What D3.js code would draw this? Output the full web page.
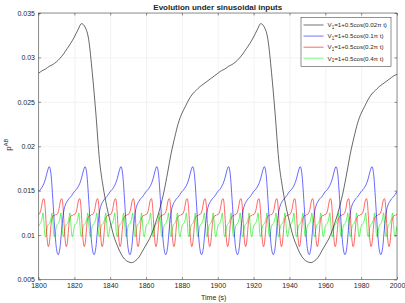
<!DOCTYPE html>
<html>
<head>
<meta charset="utf-8">
<script src="https://cdn.jsdelivr.net/npm/d3@7"></script>
<style>
  body { margin: 0; background: #fff; }
  text { font-family: "Liberation Sans", Arial, sans-serif; fill: #262626; }
</style>
</head>
<body>
<div id="chart"></div>
<script>
var blackStep = 2, blueStep = 1, redStep = 0.5, greenStep = 0.5;

// V1 = 1 + 0.5cos(0.02 pi t), every 2 s
var blackValues = [
  .0282,.0285,.0287,.0290,.0292,.0295,.0299,.0304,.0310,.0316,.0323,.0331,.0338,.0334,.0320,.0283,.0237,.0185,.0155,.0133,
  .0115,.0099,.0088,.0079,.0073,.0070,.0069,.0071,.0075,.0082,.0089,.0096,.0106,.0118,.0132,.0149,.0170,.0192,.0210,.0226,
  .0237,.0245,.0253,.0259,.0263,.0267,.0270,.0273,.0276,.0279,
  .0282,.0285,.0287,.0290,.0292,.0295,.0299,.0304,.0310,.0316,.0323,.0331,.0338,.0334,.0320,.0283,.0237,.0185,.0155,.0133,
  .0115,.0099,.0088,.0079,.0073,.0070,.0069,.0071,.0075,.0082,.0089,.0096,.0106,.0118,.0132,.0149,.0170,.0192,.0210,.0226,
  .0237,.0245,.0253,.0259,.0263,.0267,.0270,.0273,.0276,.0279,
  .0281
];

// V1 = 1 + 0.5cos(0.1 pi t), every 1 s
var blueValues = [
  .0149,.0151,.0154,.0158,.0164,.0172,.0177,.0168,.0140,.0108,.0085,.0078,.0086,.0108,.0126,.0134,.0138,.0141,.0143,.0146,
  .0149,.0151,.0154,.0158,.0164,.0172,.0177,.0168,.0140,.0108,.0085,.0078,.0086,.0108,.0126,.0134,.0138,.0141,.0143,.0146,
  .0149,.0151,.0154,.0158,.0164,.0172,.0177,.0168,.0140,.0108,.0085,.0078,.0086,.0108,.0126,.0134,.0138,.0141,.0143,.0146,
  .0149,.0151,.0154,.0158,.0164,.0172,.0177,.0168,.0140,.0108,.0085,.0078,.0086,.0108,.0126,.0134,.0138,.0141,.0143,.0146,
  .0149,.0151,.0154,.0158,.0164,.0172,.0177,.0168,.0140,.0108,.0085,.0078,.0086,.0108,.0126,.0134,.0138,.0141,.0143,.0146,
  .0149,.0151,.0154,.0158,.0164,.0172,.0177,.0168,.0140,.0108,.0085,.0078,.0086,.0108,.0126,.0134,.0138,.0141,.0143,.0146,
  .0149,.0151,.0154,.0158,.0164,.0172,.0177,.0168,.0140,.0108,.0085,.0078,.0086,.0108,.0126,.0134,.0138,.0141,.0143,.0146,
  .0149,.0151,.0154,.0158,.0164,.0172,.0177,.0168,.0140,.0108,.0085,.0078,.0086,.0108,.0126,.0134,.0138,.0141,.0143,.0146,
  .0149,.0151,.0154,.0158,.0164,.0172,.0177,.0168,.0140,.0108,.0085,.0078,.0086,.0108,.0126,.0134,.0138,.0141,.0143,.0146,
  .0149,.0151,.0154,.0158,.0164,.0172,.0177,.0168,.0140,.0108,.0085,.0078,.0086,.0108,.0126,.0134,.0138,.0141,.0143,.0146,
  .0149
];

// V1 = 1 + 0.5cos(0.2 pi t), every 0.5 s
var redValues = [
  .0123,.0124,.0126,.0130,.0136,.0140,.0141,.0136,.0122,.0104,.0092,.0087,.0090,.0100,.0112,.0119,.0121,.0122,.0122,.0123,
  .0123,.0124,.0126,.0130,.0136,.0140,.0141,.0136,.0122,.0104,.0092,.0087,.0090,.0100,.0112,.0119,.0121,.0122,.0122,.0123,
  .0123,.0124,.0126,.0130,.0136,.0140,.0141,.0136,.0122,.0104,.0092,.0087,.0090,.0100,.0112,.0119,.0121,.0122,.0122,.0123,
  .0123,.0124,.0126,.0130,.0136,.0140,.0141,.0136,.0122,.0104,.0092,.0087,.0090,.0100,.0112,.0119,.0121,.0122,.0122,.0123,
  .0123,.0124,.0126,.0130,.0136,.0140,.0141,.0136,.0122,.0104,.0092,.0087,.0090,.0100,.0112,.0119,.0121,.0122,.0122,.0123,
  .0123,.0124,.0126,.0130,.0136,.0140,.0141,.0136,.0122,.0104,.0092,.0087,.0090,.0100,.0112,.0119,.0121,.0122,.0122,.0123,
  .0123,.0124,.0126,.0130,.0136,.0140,.0141,.0136,.0122,.0104,.0092,.0087,.0090,.0100,.0112,.0119,.0121,.0122,.0122,.0123,
  .0123,.0124,.0126,.0130,.0136,.0140,.0141,.0136,.0122,.0104,.0092,.0087,.0090,.0100,.0112,.0119,.0121,.0122,.0122,.0123,
  .0123,.0124,.0126,.0130,.0136,.0140,.0141,.0136,.0122,.0104,.0092,.0087,.0090,.0100,.0112,.0119,.0121,.0122,.0122,.0123,
  .0123,.0124,.0126,.0130,.0136,.0140,.0141,.0136,.0122,.0104,.0092,.0087,.0090,.0100,.0112,.0119,.0121,.0122,.0122,.0123,
  .0123,.0124,.0126,.0130,.0136,.0140,.0141,.0136,.0122,.0104,.0092,.0087,.0090,.0100,.0112,.0119,.0121,.0122,.0122,.0123,
  .0123,.0124,.0126,.0130,.0136,.0140,.0141,.0136,.0122,.0104,.0092,.0087,.0090,.0100,.0112,.0119,.0121,.0122,.0122,.0123,
  .0123,.0124,.0126,.0130,.0136,.0140,.0141,.0136,.0122,.0104,.0092,.0087,.0090,.0100,.0112,.0119,.0121,.0122,.0122,.0123,
  .0123,.0124,.0126,.0130,.0136,.0140,.0141,.0136,.0122,.0104,.0092,.0087,.0090,.0100,.0112,.0119,.0121,.0122,.0122,.0123,
  .0123,.0124,.0126,.0130,.0136,.0140,.0141,.0136,.0122,.0104,.0092,.0087,.0090,.0100,.0112,.0119,.0121,.0122,.0122,.0123,
  .0123,.0124,.0126,.0130,.0136,.0140,.0141,.0136,.0122,.0104,.0092,.0087,.0090,.0100,.0112,.0119,.0121,.0122,.0122,.0123,
  .0123,.0124,.0126,.0130,.0136,.0140,.0141,.0136,.0122,.0104,.0092,.0087,.0090,.0100,.0112,.0119,.0121,.0122,.0122,.0123,
  .0123,.0124,.0126,.0130,.0136,.0140,.0141,.0136,.0122,.0104,.0092,.0087,.0090,.0100,.0112,.0119,.0121,.0122,.0122,.0123,
  .0123,.0124,.0126,.0130,.0136,.0140,.0141,.0136,.0122,.0104,.0092,.0087,.0090,.0100,.0112,.0119,.0121,.0122,.0122,.0123,
  .0123,.0124,.0126,.0130,.0136,.0140,.0141,.0136,.0122,.0104,.0092,.0087,.0090,.0100,.0112,.0119,.0121,.0122,.0122,.0123,
  .0123
];

// V1 = 1 + 0.5cos(0.4 pi t), every 0.5 s
var greenValues = [
  .0110,.0112,.0113,.0115,.0119,.0125,.0115,.0101,.0098,.0104, .0110,.0112,.0113,.0115,.0119,.0125,.0115,.0101,.0098,.0104,
  .0110,.0112,.0113,.0115,.0119,.0125,.0115,.0101,.0098,.0104, .0110,.0112,.0113,.0115,.0119,.0125,.0115,.0101,.0098,.0104,
  .0110,.0112,.0113,.0115,.0119,.0125,.0115,.0101,.0098,.0104, .0110,.0112,.0113,.0115,.0119,.0125,.0115,.0101,.0098,.0104,
  .0110,.0112,.0113,.0115,.0119,.0125,.0115,.0101,.0098,.0104, .0110,.0112,.0113,.0115,.0119,.0125,.0115,.0101,.0098,.0104,
  .0110,.0112,.0113,.0115,.0119,.0125,.0115,.0101,.0098,.0104, .0110,.0112,.0113,.0115,.0119,.0125,.0115,.0101,.0098,.0104,
  .0110,.0112,.0113,.0115,.0119,.0125,.0115,.0101,.0098,.0104, .0110,.0112,.0113,.0115,.0119,.0125,.0115,.0101,.0098,.0104,
  .0110,.0112,.0113,.0115,.0119,.0125,.0115,.0101,.0098,.0104, .0110,.0112,.0113,.0115,.0119,.0125,.0115,.0101,.0098,.0104,
  .0110,.0112,.0113,.0115,.0119,.0125,.0115,.0101,.0098,.0104, .0110,.0112,.0113,.0115,.0119,.0125,.0115,.0101,.0098,.0104,
  .0110,.0112,.0113,.0115,.0119,.0125,.0115,.0101,.0098,.0104, .0110,.0112,.0113,.0115,.0119,.0125,.0115,.0101,.0098,.0104,
  .0110,.0112,.0113,.0115,.0119,.0125,.0115,.0101,.0098,.0104, .0110,.0112,.0113,.0115,.0119,.0125,.0115,.0101,.0098,.0104,
  .0110,.0112,.0113,.0115,.0119,.0125,.0115,.0101,.0098,.0104, .0110,.0112,.0113,.0115,.0119,.0125,.0115,.0101,.0098,.0104,
  .0110,.0112,.0113,.0115,.0119,.0125,.0115,.0101,.0098,.0104, .0110,.0112,.0113,.0115,.0119,.0125,.0115,.0101,.0098,.0104,
  .0110,.0112,.0113,.0115,.0119,.0125,.0115,.0101,.0098,.0104, .0110,.0112,.0113,.0115,.0119,.0125,.0115,.0101,.0098,.0104,
  .0110,.0112,.0113,.0115,.0119,.0125,.0115,.0101,.0098,.0104, .0110,.0112,.0113,.0115,.0119,.0125,.0115,.0101,.0098,.0104,
  .0110,.0112,.0113,.0115,.0119,.0125,.0115,.0101,.0098,.0104, .0110,.0112,.0113,.0115,.0119,.0125,.0115,.0101,.0098,.0104,
  .0110,.0112,.0113,.0115,.0119,.0125,.0115,.0101,.0098,.0104, .0110,.0112,.0113,.0115,.0119,.0125,.0115,.0101,.0098,.0104,
  .0110,.0112,.0113,.0115,.0119,.0125,.0115,.0101,.0098,.0104, .0110,.0112,.0113,.0115,.0119,.0125,.0115,.0101,.0098,.0104,
  .0110,.0112,.0113,.0115,.0119,.0125,.0115,.0101,.0098,.0104, .0110,.0112,.0113,.0115,.0119,.0125,.0115,.0101,.0098,.0104,
  .0110,.0112,.0113,.0115,.0119,.0125,.0115,.0101,.0098,.0104, .0110,.0112,.0113,.0115,.0119,.0125,.0115,.0101,.0098,.0104,
  .0110,.0112,.0113,.0115,.0119,.0125,.0115,.0101,.0098,.0104, .0110,.0112,.0113,.0115,.0119,.0125,.0115,.0101,.0098,.0104,
  .0110
];

var seriesNames = ["0.02\u03c0 t", "0.1\u03c0 t", "0.2\u03c0 t", "0.4\u03c0 t"];
var seriesColors = ["#000000", "#0000ff", "#ff0000", "#00ee00"];
var xTicks = [1800, 1820, 1840, 1860, 1880, 1900, 1920, 1940, 1960, 1980, 2000];
var yTicks = [0.005, 0.01, 0.015, 0.02, 0.025, 0.03, 0.035];
var yTickLabels = ["0.005", "0.01", "0.015", "0.02", "0.025", "0.03", "0.035"];

var W = 405, H = 303;
var margin = { left: 38.5, right: 8, top: 13, bottom: 23.5 };
var width = W - margin.left - margin.right,
    height = H - margin.top - margin.bottom;

var svg = d3.select("#chart").append("svg")
    .attr("width", W).attr("height", H);

var g = svg.append("g")
    .attr("transform", "translate(" + margin.left + "," + margin.top + ")");

var x = d3.scaleLinear().domain([1800, 2000]).range([0, width]);
var y = d3.scaleLinear().domain([0.005, 0.035]).range([height, 0]);

// grid
g.append("g").attr("class", "grid")
    .attr("transform", "translate(0," + height + ")")
    .call(d3.axisBottom(x).tickValues(xTicks).tickSize(-height).tickFormat(""));
g.append("g").attr("class", "grid")
    .call(d3.axisLeft(y).tickValues(yTicks).tickSize(-width).tickFormat(""));
g.selectAll(".grid .domain").remove();
g.selectAll(".grid line").attr("stroke", "#e6e6e6").attr("stroke-width", 0.5);

// lines
g.append("clipPath").attr("id", "clip")
  .append("rect").attr("width", width).attr("height", height);

var seriesValues = [blackValues, blueValues, redValues, greenValues];
var seriesSteps = [blackStep, blueStep, redStep, greenStep];

var line = d3.line()
    .x(function(d){ return x(d[0]); })
    .y(function(d){ return y(d[1]); })
    .curve(d3.curveMonotoneX);

// draw green first so black ends on top like the original
[3, 2, 1, 0].forEach(function(k){
    var pts = seriesValues[k].map(function(v, i){ return [1800 + i * seriesSteps[k], v]; });
    g.append("path")
        .datum(pts)
        .attr("clip-path", "url(#clip)")
        .attr("fill", "none")
        .attr("stroke", seriesColors[k])
        .attr("stroke-width", 0.6)
        .attr("d", line);
});

// axes (ticks inward, box on)
function styleAxis(sel){
    sel.select(".domain").remove();
    sel.selectAll("line").attr("stroke", "#262626").attr("stroke-width", 0.5);
    sel.selectAll("text").attr("font-size", "7px").attr("fill", "#262626")
        .style("font-family", "'Liberation Sans', Arial, sans-serif");
}
g.append("g").attr("transform", "translate(0," + height + ")")
    .call(d3.axisBottom(x).tickValues(xTicks).tickSize(-2.5).tickPadding(3.5).tickFormat(d3.format("d")))
    .call(styleAxis);
g.append("g")
    .call(d3.axisTop(x).tickValues(xTicks).tickSize(-2.5).tickFormat(""))
    .call(styleAxis);
g.append("g")
    .call(d3.axisLeft(y).tickValues(yTicks).tickSize(-2.5).tickPadding(3.5)
        .tickFormat(function(d, i){ return yTickLabels[i]; }))
    .call(styleAxis);
g.append("g").attr("transform", "translate(" + width + ",0)")
    .call(d3.axisRight(y).tickValues(yTicks).tickSize(-2.5).tickFormat(""))
    .call(styleAxis);

g.append("rect")
    .attr("width", width).attr("height", height)
    .attr("fill", "none").attr("stroke", "#262626").attr("stroke-width", 0.5);

// title and labels
svg.append("text")
    .attr("x", margin.left + width / 2).attr("y", 10)
    .attr("text-anchor", "middle")
    .attr("font-size", "8px").attr("font-weight", "bold")
    .attr("fill", "#000")
    .text("Evolution under sinusoidal inputs");

svg.append("text")
    .attr("x", margin.left + width / 2 - 4).attr("y", 300)
    .attr("text-anchor", "middle")
    .attr("font-size", "7px")
    .text("Time (s)");

var yl = svg.append("text")
    .attr("transform", "translate(10.5," + (margin.top + height / 2 - 1.5) + ") rotate(-90)")
    .attr("text-anchor", "middle")
    .attr("font-size", "8px");
yl.append("tspan").text("p");
yl.append("tspan").attr("dy", -2.5).attr("font-size", "5.5px").text("AB");

// legend
var legend = svg.append("g").attr("transform", "translate(301,17.5)");
legend.append("rect")
    .attr("width", 90).attr("height", 49)
    .attr("fill", "#fff").attr("stroke", "#262626").attr("stroke-width", 0.5);

var legendLineWidth = [0.7, 1.6, 0.9, 1.6];
var legendLineOpacity = [0.8, 0.35, 0.65, 0.35];

seriesNames.forEach(function(name, i){
    var row = legend.append("g").attr("transform", "translate(0," + (7.5 + i * 11.1) + ")");
    row.append("line")
        .attr("x1", 2.5).attr("x2", 22.5)
        .attr("stroke", seriesColors[i])
        .attr("stroke-width", legendLineWidth[i])
        .attr("stroke-opacity", legendLineOpacity[i]);
    var t = row.append("text")
        .attr("x", 26.5).attr("y", 2.2)
        .attr("font-size", "6.2px").attr("fill", "#000");
    t.append("tspan").text("V");
    t.append("tspan").attr("dy", 1.8).attr("font-size", "4.5px").text("1");
    t.append("tspan").attr("dy", -1.8).text("=1+0.5cos(" + name + ")");
});
</script>
</body>
</html>
